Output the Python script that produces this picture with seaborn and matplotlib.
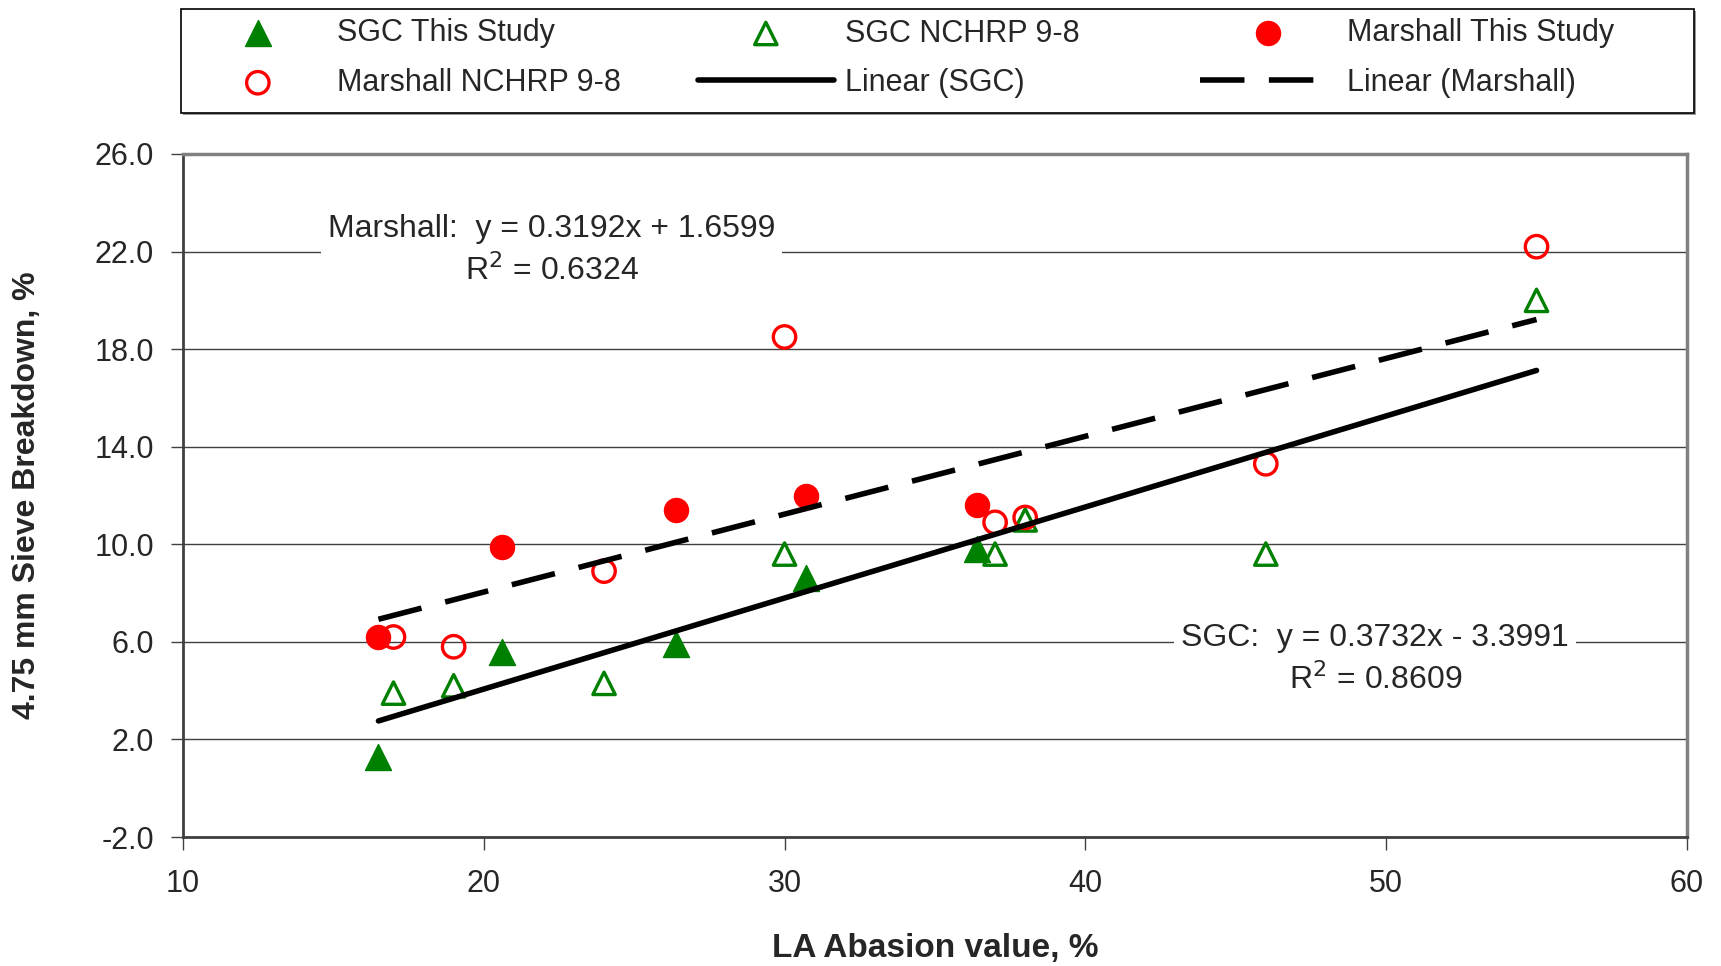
import numpy as np
import pandas as pd
import matplotlib
matplotlib.use("Agg")
import matplotlib.pyplot as plt
import seaborn as sns
from matplotlib.patches import Rectangle

# ---------------- data ----------------
sgc_this_x = [16.5, 20.6, 26.4, 30.7, 36.4]
sgc_this_y = [1.3, 5.6, 5.9, 8.6, 9.8]

sgc_nchrp_x = [17.0, 19.0, 24.0, 30.0, 37.0, 38.0, 46.0, 55.0]
sgc_nchrp_y = [3.9, 4.2, 4.3, 9.6, 9.6, 11.0, 9.6, 20.0]

mar_this_x = [16.5, 20.6, 26.4, 30.7, 36.4]
mar_this_y = [6.2, 9.9, 11.4, 12.0, 11.6]

mar_nchrp_x = [17.0, 19.0, 24.0, 30.0, 37.0, 38.0, 46.0, 55.0]
mar_nchrp_y = [6.2, 5.8, 8.9, 18.5, 10.9, 11.1, 13.3, 22.2]

sgc_slope, sgc_intercept, sgc_r2 = 0.3732, -3.3991, 0.8609
mar_slope, mar_intercept, mar_r2 = 0.3192, 1.6599, 0.6324

x_ticks = [10, 20, 30, 40, 50, 60]
y_ticks = [-2.0, 2.0, 6.0, 10.0, 14.0, 18.0, 22.0, 26.0]

labels = ["SGC This Study", "SGC NCHRP 9-8", "Marshall This Study",
          "Marshall NCHRP 9-8", "Linear (SGC)", "Linear (Marshall)"]

# ---------------- style ----------------
sns.set_style("white")
plt.rcParams["font.family"] = ["Liberation Sans", "DejaVu Sans"]

GREEN = "#008000"
RED = "#FF0000"

fig = plt.figure(figsize=(17.21, 9.66), dpi=100)
ax = fig.add_axes([0.1063, 0.1335, 0.8739, 0.7071])

# scatter series
sns.scatterplot(x=sgc_this_x, y=sgc_this_y, marker="^", s=350, color=GREEN,
                edgecolor=GREEN, linewidth=1, label=labels[0], ax=ax, zorder=3)
sns.scatterplot(x=sgc_nchrp_x, y=sgc_nchrp_y, marker="^", s=260, facecolor="none",
                edgecolor=GREEN, linewidth=2.4, label=labels[1], ax=ax, zorder=3)
sns.scatterplot(x=mar_this_x, y=mar_this_y, marker="o", s=300, color=RED,
                edgecolor=RED, linewidth=1, label=labels[2], ax=ax, zorder=3)
sns.scatterplot(x=mar_nchrp_x, y=mar_nchrp_y, marker="o", s=260, facecolor="none",
                edgecolor=RED, linewidth=2.4, label=labels[3], ax=ax, zorder=3)

# trend lines
sgc_all_x = np.array(sgc_this_x + sgc_nchrp_x)
mar_all_x = np.array(mar_this_x + mar_nchrp_x)
sgc_fx = np.array([sgc_all_x.min(), sgc_all_x.max()])
mar_fx = np.array([mar_all_x.min(), mar_all_x.max()])
sns.lineplot(x=sgc_fx, y=sgc_slope * sgc_fx + sgc_intercept, color="black",
             linewidth=4, label=labels[4], ax=ax, zorder=4,
             solid_capstyle="round")
sns.lineplot(x=mar_fx, y=mar_slope * mar_fx + mar_intercept, color="black",
             linewidth=4, linestyle=(0, (8, 4.4)), label=labels[5], ax=ax, zorder=4)

# axes
ax.set_xlim(10, 60)
ax.set_ylim(-2, 26)
ax.set_xticks(x_ticks)
ax.set_yticks(y_ticks)
ax.set_xticklabels([str(v) for v in x_ticks], fontsize=22)
ax.set_yticklabels([f"{v:.1f}" for v in y_ticks], fontsize=22)
ax.tick_params(axis="both", direction="out", length=9, width=1, color="#404040",
               bottom=True, left=True)
ax.tick_params(axis="y", pad=12)
ax.tick_params(axis="x", pad=14)
ax.grid(axis="y", color="#404040", linewidth=1)
ax.grid(axis="x", visible=False)
ax.set_axisbelow(True)
for side in ["left", "bottom"]:
    ax.spines[side].set_color("#404040")
    ax.spines[side].set_linewidth(2)
for side in ["right", "top"]:
    ax.spines[side].set_color("#808080")
    ax.spines[side].set_linewidth(2.5)

ax.set_xlabel("LA Abasion value, %", fontsize=24, fontweight="bold")
ax.set_ylabel("4.75 mm Sieve Breakdown, %", fontsize=23, fontweight="bold")
ax.xaxis.set_label_coords(0.5, -0.1625)
ax.yaxis.set_label_coords(-0.1037, 0.5)
ax.xaxis.label.set_verticalalignment("center")
ax.yaxis.label.set_verticalalignment("center")

# equations
ax.text(22.26, 22.04,
        f"Marshall:  y = {mar_slope:.4f}x + {mar_intercept:.4f}\nR$^2$ = {mar_r2:.4f}",
        ha="center", va="center", fontsize=23, linespacing=1.4, zorder=5,
        bbox=dict(facecolor="white", edgecolor="none", pad=5))
ax.text(49.64, 5.28,
        f"SGC:  y = {sgc_slope:.4f}x - {abs(sgc_intercept):.4f}\nR$^2$ = {sgc_r2:.4f}",
        ha="center", va="center", fontsize=23, linespacing=1.4, zorder=5,
        bbox=dict(facecolor="white", edgecolor="none", pad=5))

# legend: frame + three equally spaced columns
handles, labs = ax.get_legend_handles_labels()
hmap = dict(zip(labs, handles))
ax.get_legend().remove()

W, H = 1721.0, 966.0
fig.patches.append(Rectangle((183 / W, 1 - 115 / H), 1513 / W, 104 / H,
                             transform=fig.transFigure, facecolor="#9a9a9a",
                             edgecolor="none", zorder=0.5))
fig.patches.append(Rectangle((181 / W, 1 - 113 / H), 1513 / W, 104 / H,
                             transform=fig.transFigure, facecolor="white",
                             edgecolor="black", linewidth=1.2, zorder=1))

columns = [(labels[0], labels[3]), (labels[1], labels[4]), (labels[2], labels[5])]
col_x = [190, 698, 1200]
for cx, col in zip(col_x, columns):
    fig.legend([hmap[l] for l in col], list(col), loc="upper left",
               bbox_to_anchor=(cx / W, 1 - 18.5 / H), fontsize=22,
               handlelength=4.44, handletextpad=0.36, labelspacing=0.63,
               borderpad=0, borderaxespad=0, frameon=False)

fig.savefig("out.png", dpi=100, facecolor="white")
